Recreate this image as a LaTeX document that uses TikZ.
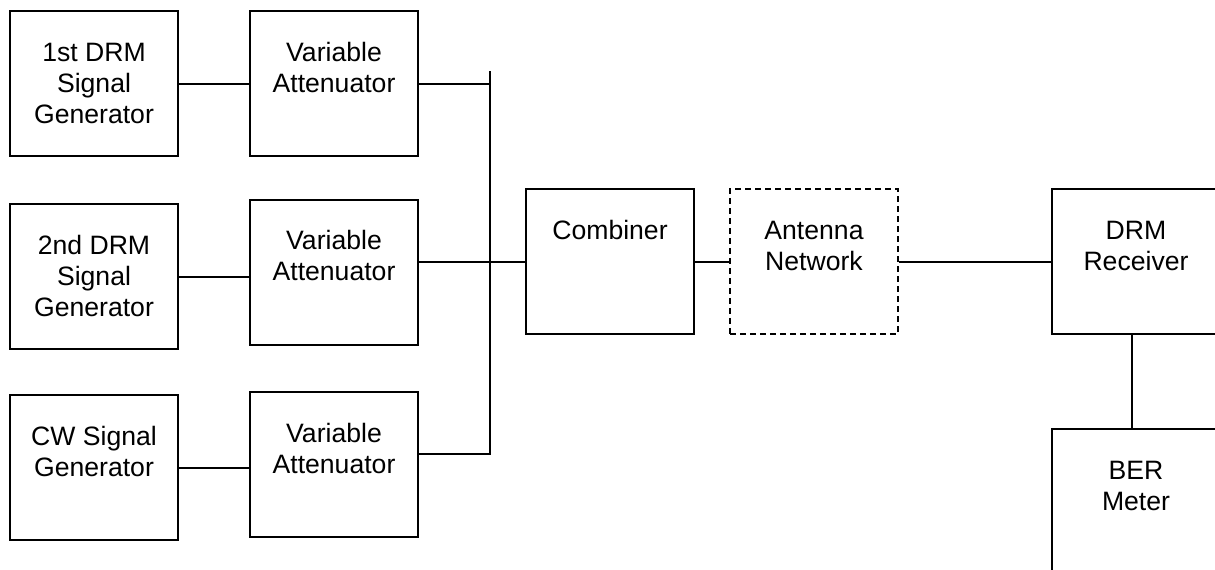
\documentclass[tikz,border=0pt]{standalone}
\usepackage{fontspec}
\setmainfont{Liberation Sans}
\tikzset{
  blk/.style     = {rectangle, draw, line width=1pt, inner sep=0pt,
                    minimum width=84pt, text height=25pt, text depth=47.5pt,
                    align=center, font=\fontsize{13.3}{15.5}\selectfont},
  blktwo/.style  = {blk, text height=40.5pt, text depth=32pt},
  blkthree/.style= {blk, text height=56pt, text depth=16.5pt},
  dashblk/.style = {blktwo, dash pattern=on 3pt off 2pt},
  wire/.style    = {line width=1pt}
}
\begin{document}
\begin{tikzpicture}[x=0.5pt,y=-0.5pt]
  \useasboundingbox (0,0) rectangle (1215,569);
  \clip (0,0) rectangle (1215,569);
  \node[blkthree] (gen1) at (94,83.5) {1st DRM\\Signal\\Generator};
  \node[blktwo] (att1) at (334,83.5) {Variable\\Attenuator};
  \node[blkthree] (gen2) at (94,276.5) {2nd DRM\\Signal\\Generator};
  \node[blktwo] (att2) at (334,272) {Variable\\Attenuator};
  \node[blktwo] (gen3) at (94,467.5) {CW Signal\\Generator};
  \node[blktwo] (att3) at (334,464.5) {Variable\\Attenuator};
  \node[blk] (comb) at (610,261.5) {Combiner};
  \node[dashblk] (ant) at (814,261.5) {Antenna\\Network};
  \node[blktwo] (rx) at (1136,261.5) {DRM\\Receiver};
  \node[blktwo] (ber) at (1136,501.5) {BER\\Meter};
  \coordinate (bustop) at (490,71);
  \coordinate (busbot) at (490,453.6);
  \draw[wire] (gen1) -- (att1);
  \draw[wire] (gen2.east) -- (gen2.east -| att2.west);
  \draw[wire] (gen3.east) -- (gen3.east -| att3.west);
  \draw[wire] (att1.east) -- (att1.east -| bustop);
  \draw[wire] (bustop) -- (busbot) -- (busbot -| att3.east);
  \draw[wire] (comb.west -| att2.east) -- (comb.west);
  \draw[wire] (comb) -- (ant);
  \draw[wire] (ant) -- (rx);
  \draw[wire] ([xshift=-2pt]rx.south) -- ([xshift=-2pt]ber.north);
\end{tikzpicture}
\end{document}
